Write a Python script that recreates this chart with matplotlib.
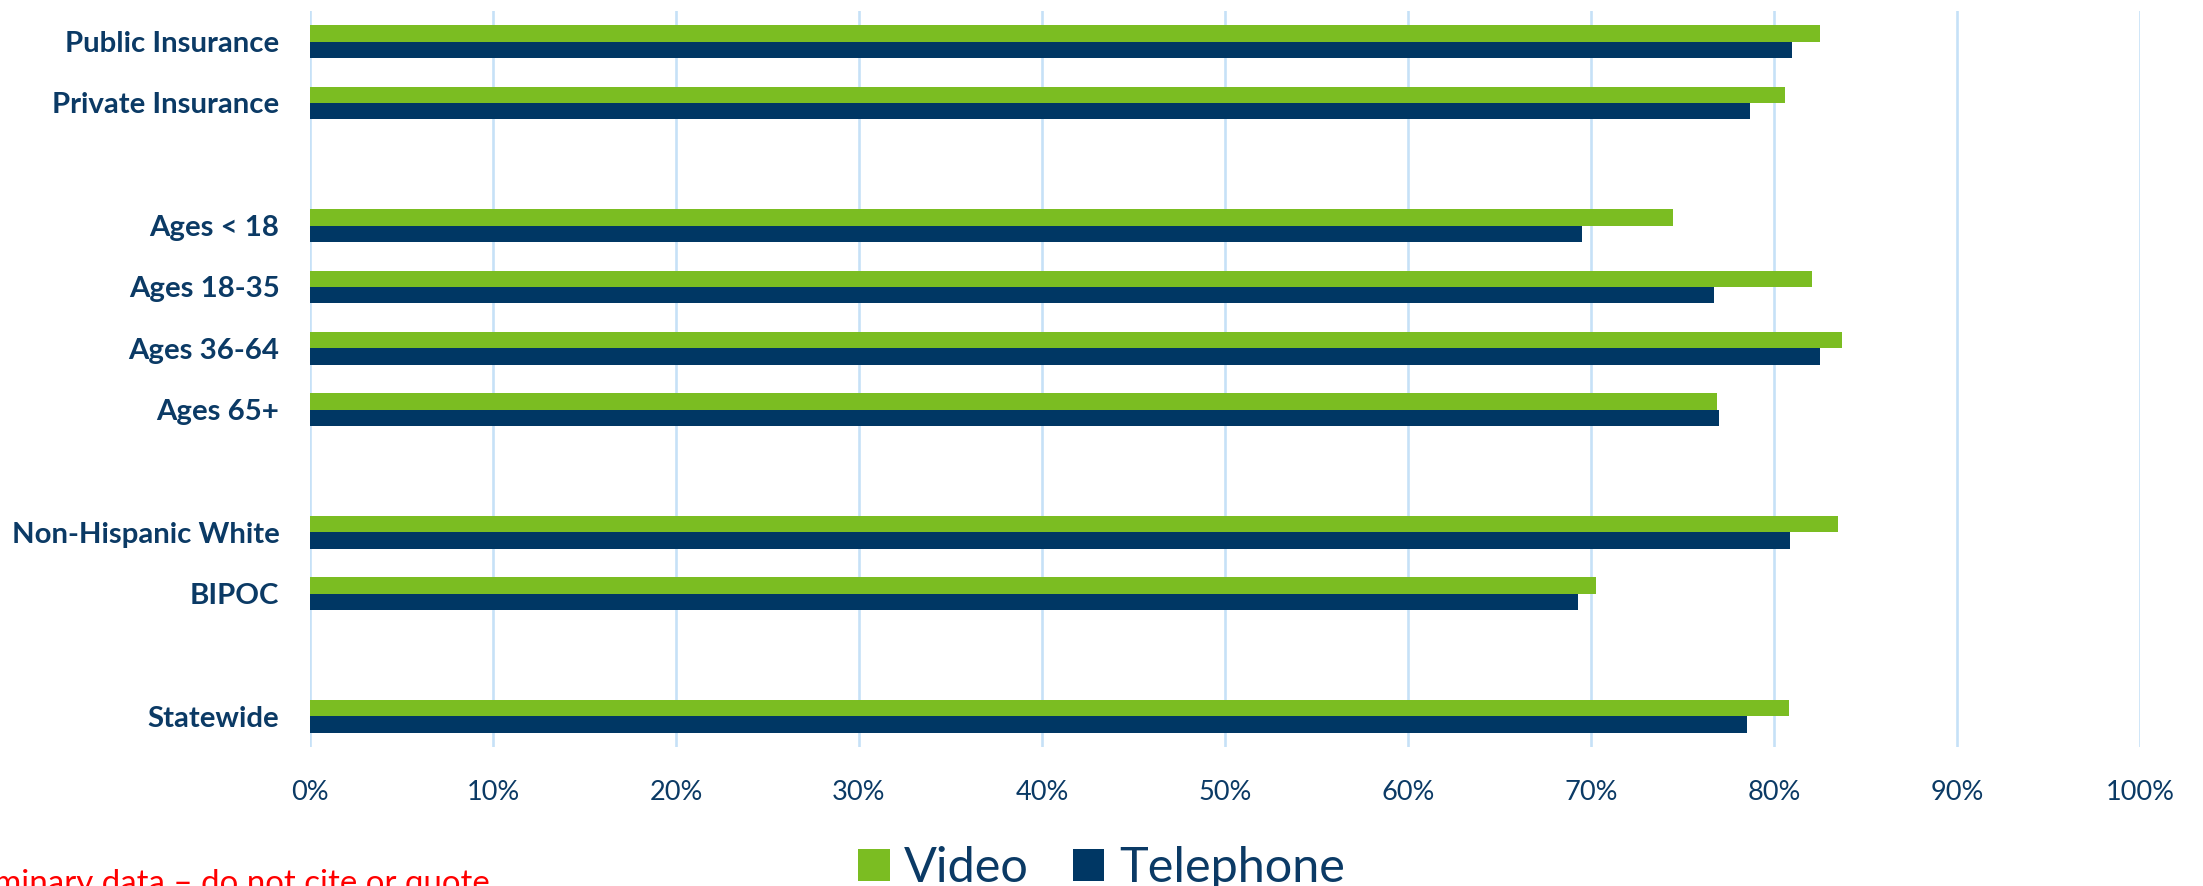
import matplotlib
matplotlib.use("Agg")
import matplotlib.pyplot as plt
import numpy as np

# groups separated by blank slots, top to bottom
categories = ["Public Insurance", "Private Insurance", "",
              "Ages < 18", "Ages 18-35", "Ages 36-64", "Ages 65+", "",
              "Non-Hispanic White", "BIPOC", "",
              "Statewide"]
video = [82.5, 80.6, np.nan, 74.5, 82.1, 83.7, 76.9, np.nan, 83.5, 70.3, np.nan, 80.8]
telephone = [81.0, 78.7, np.nan, 69.5, 76.7, 82.5, 77.0, np.nan, 80.9, 69.3, np.nan, 78.5]
xticks = [0, 10, 20, 30, 40, 50, 60, 70, 80, 90, 100]

green = "#7BBD22"
navy = "#003764"
text_col = "#0B3A65"
grid_col = "#C6E1F7"

plt.rcParams['font.family'] = ['Lato', 'DejaVu Sans']

fig = plt.figure(figsize=(22.03, 8.86), dpi=100)
ax = fig.add_axes([0.1407, 0.1569, 0.8307, 0.8307])

y = np.arange(len(categories))
h = 0.268
ax.barh(y - h / 2, video, height=h, color=green, label="Video", zorder=3)
ax.barh(y + h / 2, telephone, height=h, color=navy, label="Telephone", zorder=3)

ax.set_xlim(0, 100)
ax.set_ylim(len(categories) - 0.5, -0.5)
ax.set_xticks(xticks)
ax.set_xticklabels([f"{t}%" for t in xticks])
ax.set_yticks(y)
ax.set_yticklabels(categories, fontweight="bold")

ax.grid(axis="x", color=grid_col, linewidth=1.9, zorder=0)
for s in ax.spines.values():
    s.set_visible(False)
ax.tick_params(axis="x", length=0, pad=24, labelsize=19.5, labelcolor=text_col)
ax.tick_params(axis="y", length=0, pad=22, labelsize=21.2, labelcolor=text_col)

fig.legend(loc="center", bbox_to_anchor=(0.5, 0.02), ncol=2, frameon=False,
           fontsize=35, labelcolor=text_col, handlelength=0.65, handleheight=0.65,
           handletextpad=0.3, columnspacing=0.9)

fig.text(490 / 2203, -0.008, "Preliminary data \u2013 do not cite or quote",
         color="red", fontsize=23.8, ha="right", va="baseline")

fig.savefig("out.png", dpi=100)
